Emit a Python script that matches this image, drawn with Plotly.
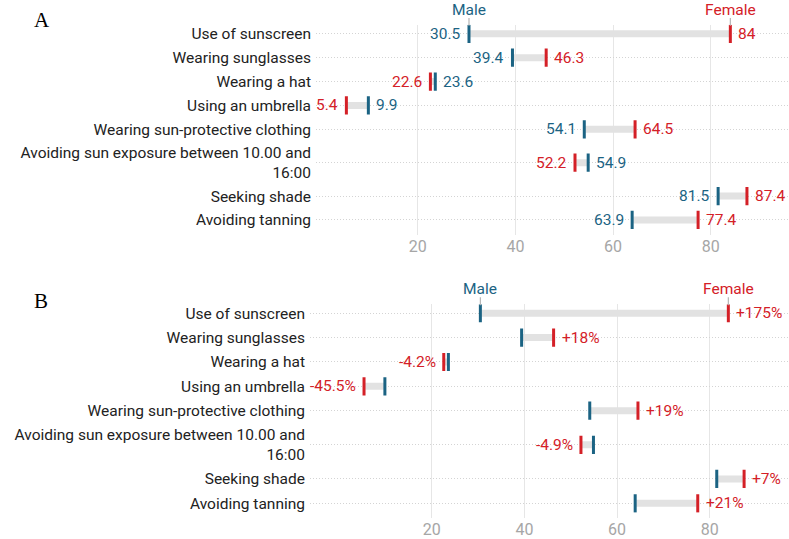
import plotly.graph_objects as go

categories = [
    "Use of sunscreen",
    "Wearing sunglasses",
    "Wearing a hat",
    "Using an umbrella",
    "Wearing sun-protective clothing",
    "Avoiding sun exposure between 10.00 and<br>16:00",
    "Seeking shade",
    "Avoiding tanning",
]
male = [30.5, 39.4, 23.6, 9.9, 54.1, 54.9, 81.5, 63.9]
female = [84, 46.3, 22.6, 5.4, 64.5, 52.2, 87.4, 77.4]
pct_labels = ["+175%", "+18%", "-4.2%", "-45.5%", "+19%", "-4.9%", "+7%", "+21%"]
x_ticks = [20, 40, 60, 80]

BLUE = "#1b6383"
RED = "#d42027"
BAR = "#e2e2e2"
GRID = "#e6e6e6"
FONT = "Roboto"

# row positions (multi-line labels get extra space)
pos = []
p = 0.0
for i, c in enumerate(categories):
    ml = "<br>" in c
    if ml and i > 0:
        p += 0.4
    pos.append(p)
    p += 1.4 if ml else 1.0

W, H = 789, 539
panels = [
    dict(letter="A", xa="x", ya="y", x0=320, ppu=4.885, left=316, top=25, bottom=236, row0=34, step=24.0,
         letter_xy=(42, 20)),
    dict(letter="B", xa="x2", ya="y2", x0=339, ppu=4.635, left=310, top=306, bottom=521, row0=315, step=24.5,
         letter_xy=(41, 303)),
]

fig = go.Figure()
annotations = []
shapes = []

for k, pn in enumerate(panels):
    xa, ya = pn["xa"], pn["ya"]
    for i in range(len(categories)):
        fig.add_trace(go.Scatter(
            x=[male[i], female[i]], y=[pos[i], pos[i]], mode="lines",
            line=dict(color=BAR, width=7), xaxis=xa, yaxis=ya,
            showlegend=False, hoverinfo="skip"))
    fig.add_trace(go.Scatter(
        x=male, y=pos, mode="markers", xaxis=xa, yaxis=ya, showlegend=False,
        marker=dict(symbol="line-ns", size=13, line=dict(color=BLUE, width=3))))
    fig.add_trace(go.Scatter(
        x=female, y=pos, mode="markers", xaxis=xa, yaxis=ya, showlegend=False,
        marker=dict(symbol="line-ns", size=13, line=dict(color=RED, width=3))))

    for i in range(len(categories)):
        m, f = male[i], female[i]
        if k == 0:
            for v, col, other in ((m, BLUE, f), (f, RED, m)):
                right = v >= other
                annotations.append(dict(
                    x=v, y=pos[i], xref=xa, yref=ya, text=f"{v:g}", showarrow=False,
                    xanchor="left" if right else "right", xshift=6 if right else -6,
                    font=dict(family=FONT, size=15.5, color=col)))
        else:
            right = f >= m
            annotations.append(dict(
                x=f, y=pos[i], xref=xa, yref=ya, text=pct_labels[i], showarrow=False,
                xanchor="left" if right else "right", xshift=6 if right else -6,
                font=dict(family=FONT, size=15.5, color=RED)))

    for v, txt, col in ((male[0], "Male", BLUE), (female[0], "Female", RED)):
        annotations.append(dict(
            x=v, y=1 - (pn["top"] - 15) / H, xref=xa, yref="paper", text=txt, showarrow=False,
            xanchor="center", yanchor="middle",
            font=dict(family=FONT, size=15.5, color=col)))
        shapes.append(dict(type="line", xref=xa, yref="paper", x0=v, x1=v,
                           y0=1 - (pn["top"] - 7) / H, y1=1 - (pn["top"] + 1) / H,
                           line=dict(color="#b5b5b5", width=1.2)))

    lx, ly = pn["letter_xy"]
    annotations.append(dict(
        x=lx / W, y=1 - ly / H, xref="paper", yref="paper", text=pn["letter"], showarrow=False,
        xanchor="center", yanchor="middle",
        font=dict(family="Liberation Serif", size=21, color="#000000")))

    xr0 = (pn["left"] - pn["x0"]) / pn["ppu"]
    xr1 = (W - pn["x0"]) / pn["ppu"]
    ytop = (pn["top"] - pn["row0"]) / pn["step"]
    ybot = (pn["bottom"] - pn["row0"]) / pn["step"]
    xkey = "xaxis" if k == 0 else "xaxis2"
    ykey = "yaxis" if k == 0 else "yaxis2"
    fig.layout[xkey] = dict(
        domain=[pn["left"] / W, 1], range=[xr0, xr1], anchor=ya,
        tickvals=x_ticks, showgrid=True, gridcolor=GRID, gridwidth=1,
        zeroline=False, showline=False, ticks="",
        tickfont=dict(family=FONT, size=16, color="#a6a6a6"))
    fig.layout[ykey] = dict(
        domain=[1 - pn["bottom"] / H, 1 - pn["top"] / H], range=[ybot, ytop], anchor=xa,
        tickvals=pos, ticktext=categories, showgrid=True, gridcolor="#d4d4d4",
        griddash="1px,2px", gridwidth=1, zeroline=False, showline=False, ticks="",
        ticklabelstandoff=4,
        tickfont=dict(family=FONT, size=15.5, color="#222222"))

fig.update_layout(
    width=W, height=H, margin=dict(l=0, r=0, t=0, b=0),
    paper_bgcolor="white", plot_bgcolor="white",
    annotations=annotations, shapes=shapes, showlegend=False)

fig.write_html("out.html")
